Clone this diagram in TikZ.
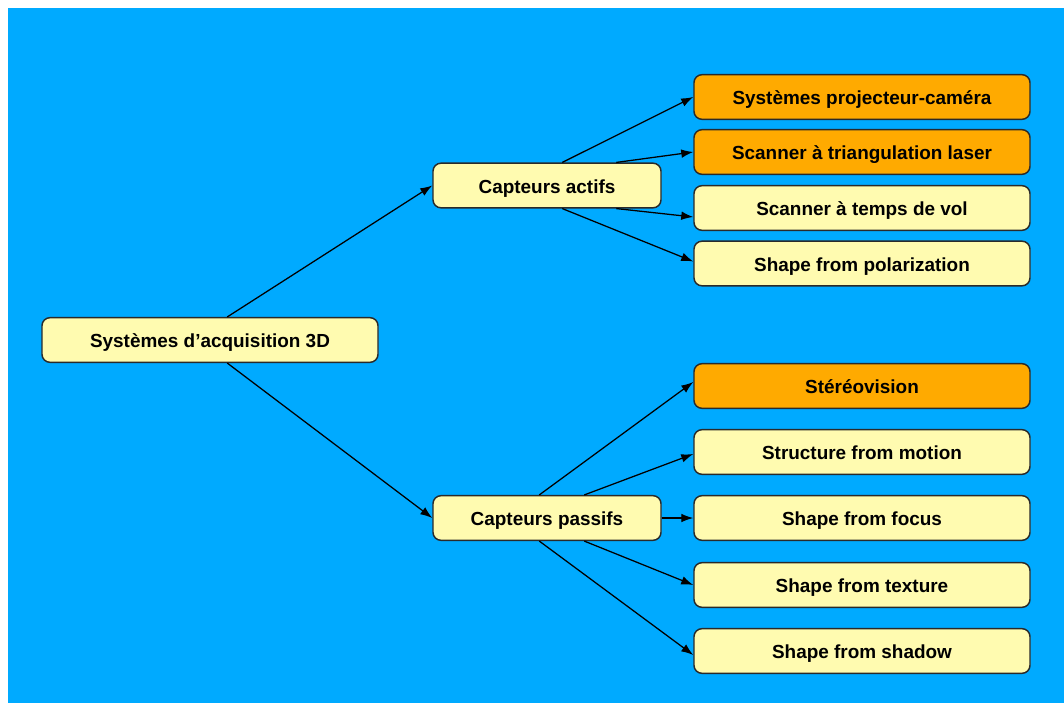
\documentclass[tikz,border=0pt]{standalone}
\usepackage{fontspec}
\setmainfont{Liberation Sans}
\usetikzlibrary{arrows.meta,calc}
\definecolor{bgblue}{HTML}{00AAFF}
\definecolor{boxorange}{HTML}{FFAA00}
\definecolor{boxyellow}{HTML}{FFFBB0}
\definecolor{edgedark}{HTML}{2A2A2A}
\begin{document}
\begin{tikzpicture}[x=0.75pt,y=-0.75pt,
  box/.style={draw=edgedark, line width=1.1pt, rounded corners=6pt, fill=boxyellow,
    minimum height=33.5pt, inner sep=0pt, text=black, text height=11.7pt, text depth=0pt,
    font=\fontsize{14.2}{17}\selectfont\bfseries},
  wide/.style={box, minimum width=252pt},
  mid/.style={box, minimum width=171pt},
  hot/.style={fill=boxorange},
  conn/.style={draw=black, line width=0.95pt, -{Latex[length=9pt,width=6.5pt]}}
]
\fill[white] (0,0) rectangle (1064,703);
\fill[bgblue] (8,8) rectangle (1064,703);

\node[wide] (root) at (210,340) {Systèmes d’acquisition 3D};
\node[mid] (actifs) at (547,185.5) {Capteurs actifs};
\node[mid] (passifs) at (547,518) {Capteurs passifs};

\node[wide,hot] (p1) at (862,97) {Systèmes projecteur-caméra};
\node[wide,hot] (p2) at (862,152) {Scanner à triangulation laser};
\node[wide] (p3) at (862,208) {Scanner à temps de vol};
\node[wide] (p4) at (862,263.5) {Shape from polarization};

\node[wide,hot] (s1) at (862,386) {Stéréovision};
\node[wide] (s2) at (862,452) {Structure from motion};
\node[wide] (s3) at (862,518) {Shape from focus};
\node[wide] (s4) at (862,585) {Shape from texture};
\node[wide] (s5) at (862,651) {Shape from shadow};

\draw[conn] ($(root.north west)+(186,0)$) -- (actifs.west);
\draw[conn] ($(root.south west)+(186,0)$) -- (passifs.west);

\draw[conn] ($(actifs.north west)+(130,0)$) -- (p1.west);
\draw[conn] ($(actifs.north west)+(184,0)$) -- (p2.west);
\draw[conn] ($(actifs.south west)+(184,0)$) -- ($(p3.west)+(0,9)$);
\draw[conn] ($(actifs.south west)+(130,0)$) -- ($(p4.west)+(0,-2)$);

\draw[conn] ($(passifs.north west)+(107,0)$) -- ($(s1.west)+(0,-4)$);
\draw[conn] ($(passifs.north west)+(152,0)$) -- ($(s2.west)+(0,2)$);
\draw[conn] (passifs.east) -- (s3.west);
\draw[conn] ($(passifs.south west)+(152,0)$) -- (s4.west);
\draw[conn] ($(passifs.south west)+(107,0)$) -- ($(s5.west)+(0,4)$);
\end{tikzpicture}
\end{document}
